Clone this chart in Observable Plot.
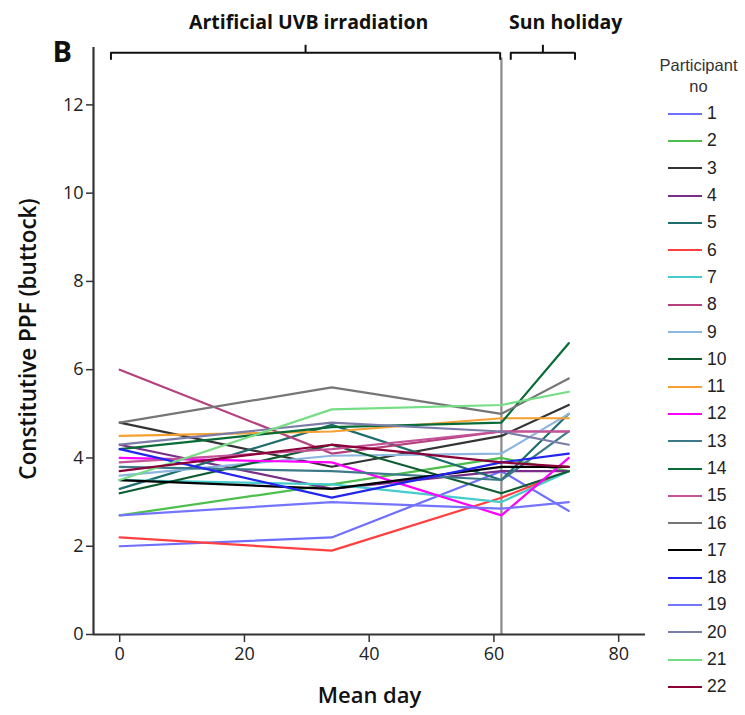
<!DOCTYPE html>
<html>
<head>
<meta charset="utf-8">
<script src="https://cdn.jsdelivr.net/npm/d3@7"></script>
<script src="https://cdn.jsdelivr.net/npm/@observablehq/plot@0.6"></script>
<style>
  html, body { margin: 0; padding: 0; background: #fff; }
  #wrap { position: relative; width: 745px; height: 715px; overflow: hidden; }
  #legend { position: absolute; left: 650px; top: 55px; width: 95px; font-family: "Liberation Sans", Arial, sans-serif; color: #222; }
  #legend .title { text-align: center; font-size: 16.5px; line-height: 21px; color: #333; padding-left: 2px; }
  #legend .row { display: flex; align-items: center; height: 27.3px; }
  #legend .sw { width: 34px; height: 0; border-top: 2.5px solid; margin-left: 18px; margin-right: 5px; }
  #legend .lab { font-size: 17.5px; }
</style>
</head>
<body>
<div id="wrap"><div id="chart"></div><div id="legend"></div></div>
<script>
// ---- data ----
const participants = ["1","2","3","4","5","6","7","8","9","10","11","12","13","14","15","16","17","18","19","20","21","22"];
const colors = ["#6e6eff","#4cbf4c","#333333","#7a2e8a","#1f6e6e","#ff4040","#45cccc","#b5407d","#8cb6e0","#0d5c30","#f5a030","#ff00ff","#3c7a8a","#086b38","#c4539a","#767676","#000000","#2424f0","#7474ff","#7c7ca8","#74de84","#8c0038"];
const days = [0, 34, 61.2, 72];
const v1  = [2.0, 2.2, 3.7, 2.8];
const v2  = [2.7, 3.4, 4.0, 3.7];
const v3  = [4.8, 3.8, 4.5, 5.2];
const v4  = [4.3, 3.3, 3.7, 3.7];
const v5  = [3.3, 4.75, 3.5, 5.0];
const v6  = [2.2, 1.9, 3.1, 3.7];
const v7  = [3.5, 3.4, 3.0, 3.7];
const v8  = [6.0, 4.1, 4.6, 4.6];
const v9  = [3.6, 4.05, 4.1, 5.0];
const v10 = [3.2, 4.3, 3.2, 3.7];
const v11 = [4.5, 4.6, 4.9, 4.9];
const v12 = [4.0, 3.9, 2.7, 4.0];
const v13 = [3.8, 3.7, 3.5, 4.6];
const v14 = [4.2, 4.7, 4.8, 6.6];
const v15 = [3.9, 4.2, 4.6, 4.6];
const v16 = [4.8, 5.6, 5.0, 5.8];
const v17 = [3.5, 3.3, 3.8, 3.8];
const v18 = [4.2, 3.1, 3.9, 4.1];
const v19 = [2.7, 3.0, 2.85, 3.0];
const v20 = [4.3, 4.8, 4.6, 4.3];
const v21 = [3.5, 5.1, 5.2, 5.5];
const v22 = [3.7, 4.3, 3.9, 3.8];
const series = [v1,v2,v3,v4,v5,v6,v7,v8,v9,v10,v11,v12,v13,v14,v15,v16,v17,v18,v19,v20,v21,v22];
const xTicks = [0, 20, 40, 60, 80];
const yTicks = [0, 2, 4, 6, 8, 10, 12];
const phaseLabels = ["Artificial UVB irradiation", "Sun holiday"];
const phaseStart = [-1.4, 62.7];
const phaseEnd = [61.0, 73.0];
const phaseLabelX = [30.3, 71.5];
const holidayStartDay = 61.2;

// ---- build table ----
const rows = [];
participants.forEach((p, i) => days.forEach((d, j) => rows.push({participant: p, day: d, value: series[i][j]})));
const phases = phaseLabels.map((label, i) => ({label, start: phaseStart[i], end: phaseEnd[i], mid: (phaseStart[i] + phaseEnd[i]) / 2, lx: phaseLabelX[i]}));
const phaseEnds = phases.flatMap(p => [p.start, p.end]);

const xMin = -4.2, xMax = 84.3, yMax = 13.3;
const bracketY = 13.18;

const chart = Plot.plot({
  width: 745,
  height: 715,
  marginLeft: 93,
  marginRight: 100,
  marginTop: 47,
  marginBottom: 81,
  x: {domain: [xMin, xMax]},
  y: {domain: [0, yMax]},
  color: {domain: participants, range: colors},
  style: {fontFamily: "'Open Sans', sans-serif", fontSize: "18px", color: "#222", background: "white"},
  marks: [
    Plot.axisY({ticks: yTicks, tickSize: 7, tickPadding: 3, label: null, stroke: "#333", strokeWidth: 1.5}),
    Plot.axisX({ticks: xTicks, tickSize: 8, tickPadding: 5, label: null, stroke: "#333", strokeWidth: 1.5}),
    Plot.ruleX([holidayStartDay], {y1: 0, y2: 13.06, stroke: "#8a8a8a", strokeWidth: 2.2}),
    Plot.line(rows, {x: "day", y: "value", z: "participant", stroke: "participant", strokeWidth: 2.2}),
    Plot.ruleY([0], {x1: xMin, x2: xMax, stroke: "#333", strokeWidth: 2.2}),
    Plot.ruleX([xMin], {y1: 0, y2: yMax, stroke: "#333", strokeWidth: 2.2}),
    // brackets
    Plot.ruleY(phases, {y: () => bracketY, x1: "start", x2: "end", stroke: "#111", strokeWidth: 2}),
    Plot.ruleX(phaseEnds, {x: d => d, y1: () => bracketY, y2: () => bracketY - 0.17, stroke: "#111", strokeWidth: 2}),
    Plot.ruleX(phases, {x: "mid", y1: () => bracketY, y2: () => bracketY + 0.17, stroke: "#111", strokeWidth: 2}),
    Plot.text(phases, {x: "lx", y: () => yMax, dy: -25, text: "label", fontSize: 19.5, fontWeight: "bold", fill: "#111"}),
    Plot.text(["B"], {frameAnchor: "top-left", textAnchor: "start", lineAnchor: "top", dx: -41, dy: -6, text: d => d, fontSize: 29, fontWeight: "bold", fill: "#111"}),
    Plot.text(["Constitutive PPF (buttock)"], {frameAnchor: "left", textAnchor: "middle", dx: -65, dy: -2, rotate: -90, text: d => d, fontSize: 22.5, fontWeight: 600, fill: "#111"}),
    Plot.text(["Mean day"], {frameAnchor: "bottom", textAnchor: "middle", dy: 68, text: d => d, fontSize: 22, fontWeight: 600, fill: "#111"})
  ]
});
document.getElementById("chart").appendChild(chart);

// ---- legend ----
const leg = document.getElementById("legend");
leg.innerHTML = '<div class="title">Participant<br>no</div>';
const list = document.createElement("div");
list.style.marginTop = "3px";
participants.forEach((p, i) => {
  const r = document.createElement("div");
  r.className = "row";
  r.innerHTML = `<span class="sw" style="border-color:${colors[i]}"></span><span class="lab">${p}</span>`;
  list.appendChild(r);
});
leg.appendChild(list);
</script>
</body>
</html>
